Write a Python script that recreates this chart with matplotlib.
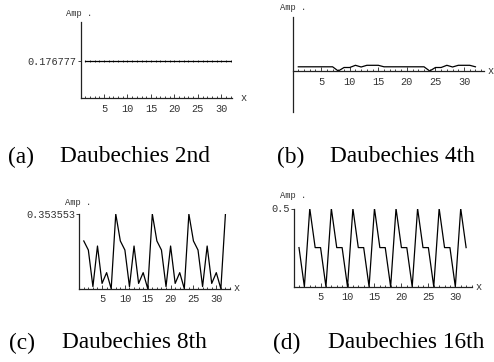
import matplotlib
matplotlib.use("Agg")
import matplotlib.pyplot as plt
from matplotlib.ticker import MultipleLocator, FixedLocator

W, H = 494, 362

x_idx = list(range(1, 33))
amp_a = [0.176777] * 32
amp_b = [0.042, 0.042, 0.042, 0.042, 0.042, 0.042, 0.042, 0.0,
         0.035, 0.035, 0.057, 0.040, 0.057, 0.057, 0.057, 0.042,
         0.042, 0.042, 0.042, 0.042, 0.042, 0.042, 0.042, 0.0,
         0.035, 0.035, 0.057, 0.040, 0.057, 0.057, 0.057, 0.042]
amp_c = [0.226, 0.183, 0.010, 0.202, 0.025, 0.076, 0.0, 0.353553,
         0.226, 0.183, 0.010, 0.202, 0.025, 0.076, 0.0, 0.353553,
         0.226, 0.183, 0.010, 0.202, 0.025, 0.076, 0.0, 0.353553,
         0.226, 0.183, 0.010, 0.202, 0.025, 0.076, 0.0, 0.353553]
amp_d = [0.25, 0.0, 0.5, 0.25, 0.25, 0.0, 0.5, 0.25,
         0.25, 0.0, 0.5, 0.25, 0.25, 0.0, 0.5, 0.25,
         0.25, 0.0, 0.5, 0.25, 0.25, 0.0, 0.5, 0.25,
         0.25, 0.0, 0.5, 0.25, 0.25, 0.0, 0.5, 0.25]
x_ticks = [5, 10, 15, 20, 25, 30]
captions = [("(a)", "Daubechies 2nd"), ("(b)", "Daubechies 4th"),
            ("(c)", "Daubechies 8th"), ("(d)", "Daubechies 16th")]

MONO = "Liberation Mono"
SERIF = "Liberation Serif"
AXC = "#222222"

fig = plt.figure(figsize=(W / 100, H / 100), dpi=100)
fig.patch.set_facecolor("white")


def fx(px):
    return px / W


def fy(py):
    return 1 - py / H


def make_ax(left, right, top, bottom, xlim, ylim, ylabels=None):
    ax = fig.add_axes([fx(left), fy(bottom), (right - left) / W, (bottom - top) / H])
    ax.set_xlim(*xlim)
    ax.set_ylim(*ylim)
    ax.patch.set_alpha(0)
    for s in ("top", "right"):
        ax.spines[s].set_visible(False)
    ax.spines["left"].set_position(("data", 0))
    ax.spines["bottom"].set_position(("data", 0))
    for s in ("left", "bottom"):
        ax.spines[s].set_linewidth(0.9)
        ax.spines[s].set_color(AXC)
    ax.xaxis.set_major_locator(FixedLocator(x_ticks))
    ax.xaxis.set_minor_locator(MultipleLocator(1))
    ax.tick_params(axis="x", which="major", direction="in", length=3, width=0.6,
                   color=AXC, labelsize=7.4, pad=4, labelcolor="#333333")
    ax.tick_params(axis="x", which="minor", direction="in", length=1.6, width=0.6, color=AXC)
    for lab in ax.get_xticklabels():
        lab.set_fontfamily(MONO)
    if ylabels:
        ax.set_yticks(ylabels)
        ax.set_yticklabels([str(v) for v in ylabels], fontfamily=MONO)
        ax.tick_params(axis="y", which="major", direction="out", length=2, width=0.6,
                       color=AXC, labelsize=7.4, pad=1, labelcolor="#333333")
    else:
        ax.set_yticks([])
    return ax


# (a)
ax_a = make_ax(80.6, 231.6, 22, 98, (0, 32.2), (0, 0.3631), ylabels=[0.176777])
ax_a.plot(x_idx, amp_a, color="black", lw=0.9, marker="|", ms=1.6, mew=0.5)
# (b)
ax_b = make_ax(292.6, 484, 17, 112, (0, 33.5), (-0.41, 0.54))
ax_b.plot(x_idx, amp_b, color="black", lw=0.9)
# (c)
ax_c = make_ax(79.2, 230, 214, 288.7, (0, 33), (0, 0.353553), ylabels=[0.353553])
ax_c.plot(x_idx, amp_c, color="black", lw=0.9)
# (d)
ax_d = make_ax(293.6, 471.5, 208.5, 286.7, (0, 33), (0, 0.5), ylabels=[0.5])
ax_d.plot(x_idx, amp_d, color="black", lw=0.9)

# "Amp ." and "x" labels
amp_pos = [(79, 13), (293, 8), (78, 203), (293, 196)]
x_pos = [(244, 98), (491, 71), (237, 288), (479, 287)]
for (ax_px, ay_px), (xx, xy) in zip(amp_pos, x_pos):
    fig.text(fx(ax_px), fy(ay_px), "Amp .", fontfamily=MONO, fontsize=6.3,
             ha="center", va="center", color="#333333")
    fig.text(fx(xx), fy(xy), "x", fontfamily=MONO, fontsize=7.4,
             ha="center", va="center", color="#333333")

# captions
cap_pos = [(8, 60, 157), (277, 330, 157), (9, 62, 343), (273, 328, 343)]
for (lab, name), (lx, nx, cy) in zip(captions, cap_pos):
    fig.text(fx(lx), fy(cy), lab, fontfamily=SERIF, fontsize=16.8, ha="left", va="center")
    fig.text(fx(nx), fy(cy), name, fontfamily=SERIF, fontsize=16.8, ha="left", va="center")

fig.savefig("out.png", dpi=100, facecolor="white")
